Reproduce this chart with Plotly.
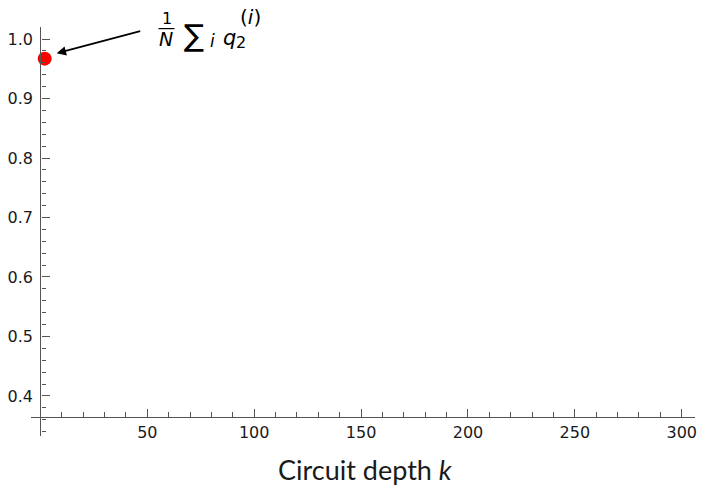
import plotly.graph_objects as go

# ---- data ----
depth_k = [2]
mean_q2 = [0.967]

x_tick_vals = [50, 100, 150, 200, 250, 300]
x_tick_text = ["50", "100", "150", "200", "250", "300"]
y_tick_vals = [0.4, 0.5, 0.6, 0.7, 0.8, 0.9, 1.0]
y_tick_text = ["0.4", "0.5", "0.6", "0.7", "0.8", "0.9", "1.0"]
x_minor_vals = [v for v in range(10, 310, 10) if v % 50 != 0]
y_minor_vals = [round(0.34 + 0.02 * i, 2) for i in range(35) if (i * 2 + 34) % 10 != 0]

x_title = "Circuit depth <i>k</i>"

# ---- layout geometry ----
W, H = 701, 487
ML, MR, MT, MB = 31, 6, 27, 51
x_range = [-4.4, 306.2]
y_range = [0.3327, 1.0202]
x_cross = 0.0     # where the y axis sits
y_cross = 0.3652  # where the x axis sits

pw = W - ML - MR
ph = H - MT - MB


def px_(px):
    return (px - ML) / pw


def py_(py):
    return (H - MB - py) / ph


axis_col = "#555555"
tick_font = dict(family="DejaVu Sans", size=16, color="#1a1a1a")

fig = go.Figure()
fig.add_trace(go.Scatter(
    x=depth_k, y=mean_q2, mode="markers",
    marker=dict(color="#ff0000", size=14, line=dict(width=0)),
    cliponaxis=False, showlegend=False,
))

fig.update_layout(
    width=W, height=H,
    margin=dict(l=ML, r=MR, t=MT, b=MB, pad=0, autoexpand=False),
    paper_bgcolor="white", plot_bgcolor="white",
    showlegend=False,
)

fig.update_xaxes(
    range=x_range, anchor="free", automargin=False,
    position=(y_cross - y_range[0]) / (y_range[1] - y_range[0]),
    showgrid=False, zeroline=False,
    showline=True, linecolor=axis_col, linewidth=1.3,
    ticks="inside", ticklen=8, tickwidth=1.2, tickcolor=axis_col,
    tickmode="array", tickvals=x_tick_vals, ticktext=x_tick_text,
    tickfont=tick_font, ticklabelstandoff=1,
    minor=dict(tickmode="array", tickvals=x_minor_vals, ticks="inside",
               ticklen=4.5, tickwidth=1.1, tickcolor=axis_col, showgrid=False),
)
fig.update_yaxes(
    range=y_range, anchor="free", automargin=False,
    position=(x_cross - x_range[0]) / (x_range[1] - x_range[0]),
    showgrid=False, zeroline=False,
    showline=True, linecolor=axis_col, linewidth=1.3,
    ticks="inside", ticklen=8, tickwidth=1.2, tickcolor=axis_col,
    tickmode="array", tickvals=y_tick_vals, ticktext=y_tick_text,
    tickfont=tick_font, ticklabelstandoff=4,
    minor=dict(tickmode="array", tickvals=y_minor_vals, ticks="inside",
               ticklen=4.5, tickwidth=1.1, tickcolor=axis_col, showgrid=False),
)

# arrow (head at the point, tail toward the label)
head = (56.7, 53.3)
tail = (141.7, 30.7)
fig.add_annotation(
    x=px_(head[0]), y=py_(head[1]), xref="paper", yref="paper",
    ax=tail[0] - head[0], ay=tail[1] - head[1], axref="pixel", ayref="pixel",
    text="", showarrow=True, arrowhead=2, arrowsize=1.1,
    arrowwidth=1.7, arrowcolor="black",
)

# formula label pieces:  1/N  sum_i  q_2^(i)
ff = "DejaVu Sans"
pieces = [
    ("1", 167.0, 19.0, 16),
    ("<i>N</i>", 166.0, 38.5, 19),
    ("\u2211", 194.0, 35.5, 30),
    ("<i>i</i>", 212.5, 40.5, 17),
    ("<i>q</i>", 229.5, 37.5, 21),
    ("2", 241.0, 42.0, 16),
    ("(<i>i</i>)", 250.5, 17.5, 20),
]
for txt, cx, cy, fs in pieces:
    fig.add_annotation(
        x=px_(cx), y=py_(cy), xref="paper", yref="paper", text=txt,
        showarrow=False, xanchor="center", yanchor="middle",
        font=dict(family=ff, size=fs, color="black"),
    )
fig.add_shape(type="line", xref="paper", yref="paper",
              x0=px_(158.5), x1=px_(174.5), y0=py_(28.6), y1=py_(28.6),
              line=dict(color="black", width=1.2))

# axis title
fig.add_annotation(
    x=px_(365), y=py_(469), xref="paper", yref="paper", text=x_title,
    showarrow=False, xanchor="center", yanchor="middle",
    font=dict(family="Lato", size=27, color="#1a1a1a"),
)

fig.write_html("out.html", config={"displayModeBar": False},
               post_script="document.body.style.margin='0';document.body.style.padding='0';")
